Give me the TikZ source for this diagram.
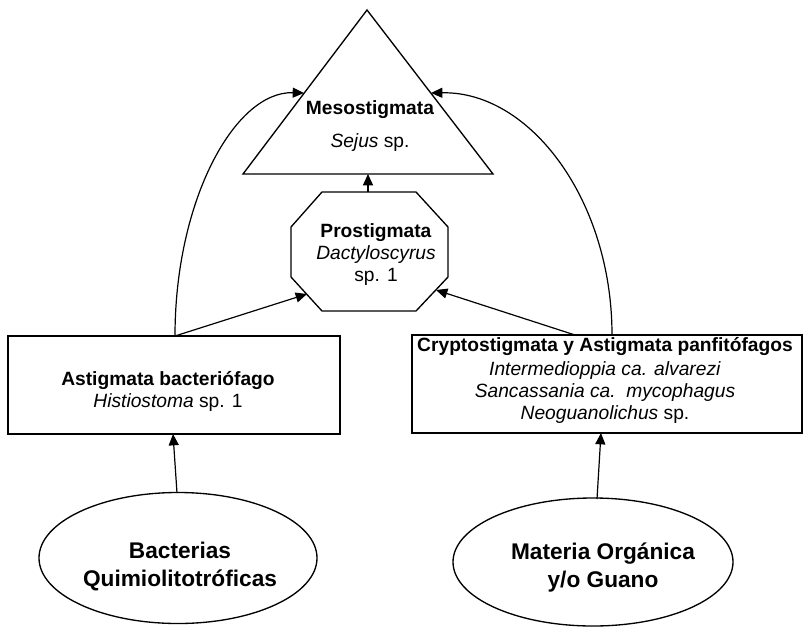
\documentclass[tikz,border=0pt]{standalone}
\usepackage{fontspec}
\setmainfont{Liberation Sans}
\usetikzlibrary{arrows.meta,shapes.geometric}
\begin{document}
\begin{tikzpicture}[x=0.75pt,y=-0.75pt,
  shapeline/.style={draw,line width=1pt,line join=miter},
  boxtxt/.style={align=center,font=\fontsize{14.4}{16.5}\selectfont,inner sep=0pt},
  bigtxt/.style={align=center,font=\fontsize{17}{21}\selectfont\bfseries,inner sep=0pt},
  rectbox/.style={shapeline,rectangle,inner sep=0pt},
  ellbox/.style={shapeline,ellipse,inner sep=0pt},
  arr/.style={-{Triangle[length=8.5pt,width=7.5pt]},line width=0.9pt},
]
\useasboundingbox[fill=white] (0,0) rectangle (806,628);

% Mesostigmata: triangle at the top
\coordinate (tA) at (367,10);
\coordinate (tL) at (243,174);
\coordinate (tR) at (493,174);
\draw[shapeline] (tA) -- (tL) -- (tR) -- cycle;
\node[boxtxt] (meso) at (370,126) {\textbf{Mesostigmata}\\[8pt]\textit{Sejus} sp.};
\coordinate (tbase) at (368,174);
\coordinate (tsideL) at (304,93);
\coordinate (tsideR) at (431,93);

% Prostigmata: octagon
\draw[shapeline] (291,227) -- (322,192) -- (416,192) -- (448,227) -- (448,277)
  -- (416,311) -- (322,311) -- (291,277) -- cycle;
\node[boxtxt] (pros) at (376,255) {\textbf{Prostigmata}\\\textit{Dactyloscyrus}\\sp. 1};
\coordinate (otop) at (368,192);
\coordinate (oLL) at (307,294);
\coordinate (oLR) at (436,290);

% Left box: bacterial feeders
\node[rectbox,minimum width=249pt,minimum height=73.5pt] (lbox) at (174,385) {};
\node[boxtxt] (ltxt) at (168,391) {\textbf{Astigmata bacteriófago}\\\textit{Histiostoma} sp. 1};
\coordinate (lout) at (175,336);
\coordinate (lin) at (173,434);

% Right box: panphytophagous mites
\node[rectbox,minimum width=292.5pt,minimum height=73.5pt] (rbox) at (607,384) {};
\node[boxtxt] (rtxt) at (605,380.5) {\textbf{Cryptostigmata y Astigmata panfitófagos}\\[1pt]
  \textit{Intermedioppia ca. alvarezi}\\
  \textit{Sancassania ca.\ \ mycophagus}\\
  \textit{Neoguanolichus} sp.};
\coordinate (rout1) at (575,335);
\coordinate (rout2) at (612,335);
\coordinate (rin) at (601,433);

% Basal resources
\node[ellbox,minimum width=208.5pt,minimum height=98.25pt] (bact) at (178,558) {};
\node[bigtxt] (btxt) at (180,567) {Bacterias\\Quimiolitotróficas};
\node[ellbox,minimum width=210pt,minimum height=96pt] (mat) at (593,562) {};
\node[bigtxt] (mtxt) at (603,568) {Materia Orgánica\\y/o Guano};
\coordinate (bout) at (177,493);
\coordinate (mout) at (597,499);

% Feeding links
\draw[arr] (otop) -- (tbase);
\draw[arr] (lout) -- (oLL);
\draw[arr] (rout1) -- (oLR);
\draw[arr] (lout) .. controls (175,200) and (235,91) .. (tsideL);
\draw[arr] (rout2) .. controls (612,200) and (530,91) .. (tsideR);
\draw[arr] (bout) -- (lin);
\draw[arr] (mout) -- (rin);
\end{tikzpicture}
\end{document}
